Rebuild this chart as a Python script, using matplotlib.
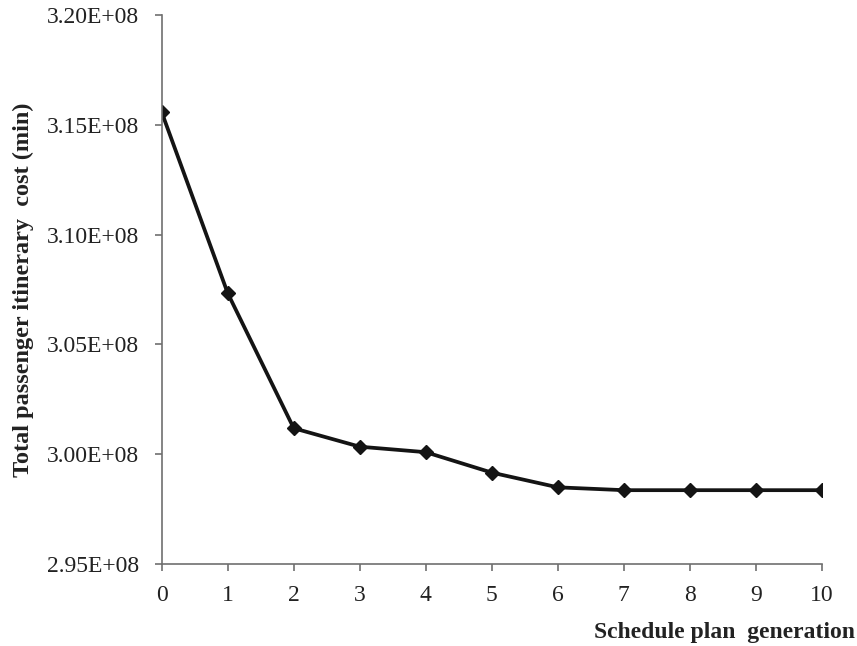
import matplotlib
matplotlib.use('Agg')
import matplotlib.pyplot as plt
from matplotlib.ticker import FuncFormatter

# 数据
generation = [0, 1, 2, 3, 4, 5, 6, 7, 8, 9, 10]
cost = [3.1557e8, 3.0733e8, 3.0118e8, 3.0034e8, 3.0009e8, 2.9916e8,
        2.9849e8, 2.9836e8, 2.9836e8, 2.9836e8, 2.9836e8]
y_ticks = [2.95e8, 3.00e8, 3.05e8, 3.10e8, 3.15e8, 3.20e8]

plt.rcParams['font.family'] = ['Liberation Serif', 'DejaVu Serif']

fig = plt.figure(figsize=(8.57, 6.46), dpi=100)
ax = fig.add_axes([0.1887, 0.127, 0.959 - 0.1887, 0.9768 - 0.127])

ax.plot(generation, cost, color='#141414', linewidth=2.7,
        marker='D', markersize=7.2, markerfacecolor='#141414',
        markeredgecolor='#141414')

ax.set_xlim(0, 10)
ax.set_ylim(2.95e8, 3.20e8)
ax.set_xticks(generation)
ax.set_yticks(y_ticks)
ax.yaxis.set_major_formatter(FuncFormatter(lambda v, p: f"{v / 1e8:.2f}E+08"))

# 坐标轴样式
for side in ['top', 'right']:
    ax.spines[side].set_visible(False)
for side in ['left', 'bottom']:
    ax.spines[side].set_color('#707070')
    ax.spines[side].set_linewidth(1.2)
ax.tick_params(axis='both', direction='out', length=5, width=1.2,
               color='#707070', labelsize=17, labelcolor='#222222')
ax.tick_params(axis='x', pad=10.5)
ax.tick_params(axis='y', pad=11)

fig.text(0.027, 0.551, 'Total passenger itinerary  cost (min)', rotation=90,
         ha='center', va='center', fontsize=17.5, fontweight='bold',
         color='#222222')
fig.text(0.998, 0.005, 'Schedule plan  generation', ha='right', va='bottom',
         fontsize=17, fontweight='bold', color='#222222')

fig.savefig('out.png', dpi=100)
